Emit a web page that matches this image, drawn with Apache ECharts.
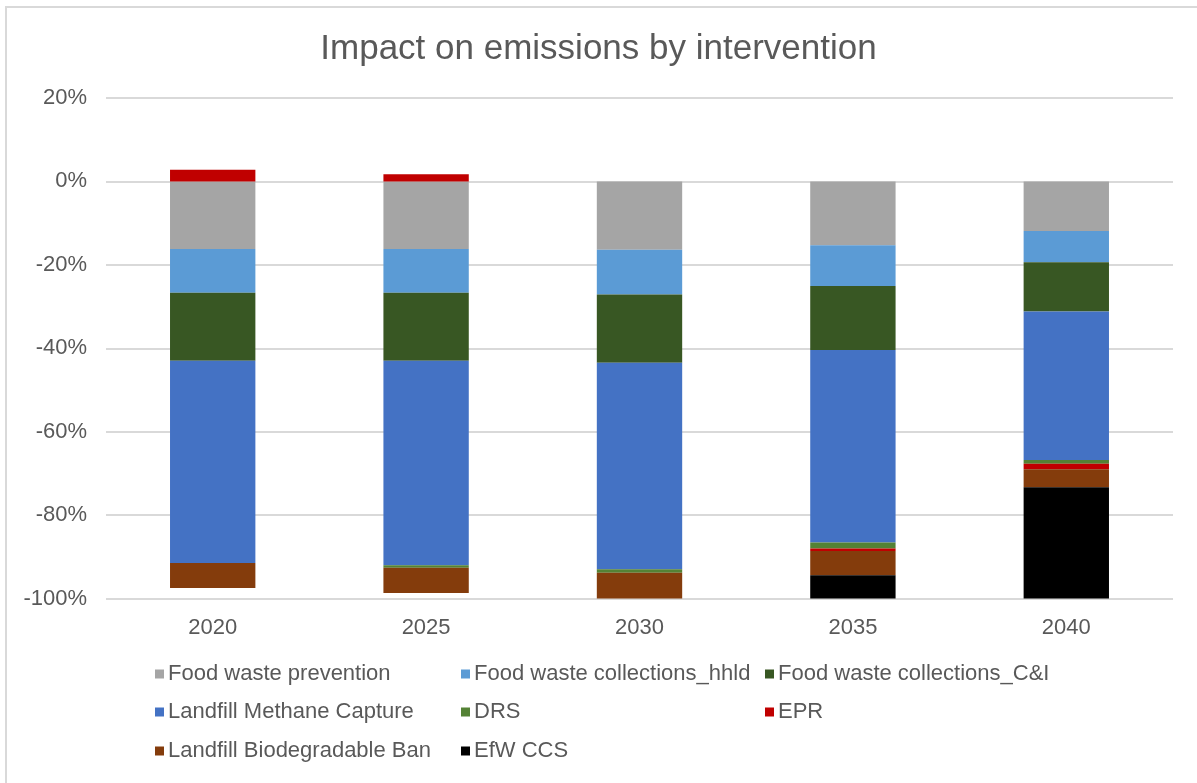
<!DOCTYPE html>
<html>
<head>
<meta charset="utf-8">
<script src="https://cdn.jsdelivr.net/npm/echarts@6/dist/echarts.min.js"></script>
<style>
  html, body { margin: 0; padding: 0; background: #fff; overflow: hidden; }
  #frame { position: absolute; left: 5px; top: 6px; width: 1400px; height: 1000px;
           border: 2px solid #d9d9d9; box-sizing: border-box; }
  #chart { position: absolute; left: 0; top: 0; width: 1197px; height: 783px; }
</style>
</head>
<body>
<div id="frame"></div>
<div id="chart"></div>
<script>
// Years on the category axis
const years = ['2020', '2025', '2030', '2035', '2040'];

// Change in emissions (%) attributed to each intervention
const foodWastePrevention   = [-16.2, -16.2, -16.4, -15.3, -11.9];
const foodWasteHhld         = [-10.5, -10.5, -10.7,  -9.8,  -7.5];
const foodWasteCI           = [-16.3, -16.3, -16.4, -15.3, -11.8];
const landfillMethane       = [-48.5, -49.0, -49.5, -46.2, -35.6];
const drs                   = [  0.0,  -0.6,  -0.8,  -1.4,  -0.9];
const epr                   = [  2.8,   1.7,   0.0,  -0.6,  -1.3];
const landfillBiodegBan     = [ -6.0,  -6.1,  -6.2,  -5.8,  -4.3];
const efwCcs                = [  0.0,   0.0,   0.0,  -5.6, -26.7];

// Value axis ticks
const yMin = -100, yMax = 20, yStep = 20;

const seriesDefs = [
  { name: 'Food waste prevention',      data: foodWastePrevention, color: '#A5A5A5' },
  { name: 'Food waste collections_hhld', data: foodWasteHhld,      color: '#5B9BD5' },
  { name: 'Food waste collections_C&I', data: foodWasteCI,         color: '#385723' },
  { name: 'Landfill Methane Capture',   data: landfillMethane,     color: '#4472C4' },
  { name: 'DRS',                        data: drs,                 color: '#548235' },
  { name: 'EPR',                        data: epr,                 color: '#C00000' },
  { name: 'Landfill Biodegradable Ban', data: landfillBiodegBan,   color: '#843C0C' },
  { name: 'EfW CCS',                    data: efwCcs,              color: '#000000' }
];

const font = '"Liberation Sans", Arial, sans-serif';
const textColor = '#595959';

// Legend laid out as a 3-column grid
const legendCols = [155, 461, 765];
const legendRows = [675, 713, 752];
const legends = seriesDefs.map((s, i) => ({
  data: [s.name],
  left: legendCols[i % 3],
  top: legendRows[Math.floor(i / 3)] - 12,
  icon: 'rect',
  itemWidth: 9,
  itemHeight: 9,
  itemGap: 0,
  padding: 0,
  selectedMode: false,
  textStyle: { fontFamily: font, fontSize: 22, color: textColor, padding: [0, 0, 0, -1] }
}));

const chart = echarts.init(document.getElementById('chart'), null, { renderer: 'canvas' });
chart.setOption({
  animation: false,
  backgroundColor: 'transparent',
  title: {
    text: 'Impact on emissions by intervention',
    left: 'center',
    top: 27,
    textStyle: { fontFamily: font, fontSize: 35, fontWeight: 'normal', color: textColor }
  },
  legend: legends,
  grid: { left: 106, right: 24, top: 98, bottom: 184.5, containLabel: false },
  xAxis: {
    type: 'category',
    data: years,
    position: 'bottom',
    axisLine: { show: false },
    axisTick: { show: false },
    axisLabel: { fontFamily: font, fontSize: 22, color: textColor, margin: 18 }
  },
  yAxis: {
    type: 'value',
    min: yMin,
    max: yMax,
    interval: yStep,
    axisLine: { show: false },
    axisTick: { show: false },
    axisLabel: { fontFamily: font, fontSize: 22, color: textColor, margin: 19,
                 formatter: v => v + '%' },
    splitLine: { lineStyle: { color: '#D9D9D9', width: 2 } }
  },
  series: seriesDefs.map(s => ({
    name: s.name,
    type: 'bar',
    stack: 'total',
    stackStrategy: 'samesign',
    barWidth: '40%',
    data: s.data,
    itemStyle: { color: s.color }
  }))
});
</script>
</body>
</html>
